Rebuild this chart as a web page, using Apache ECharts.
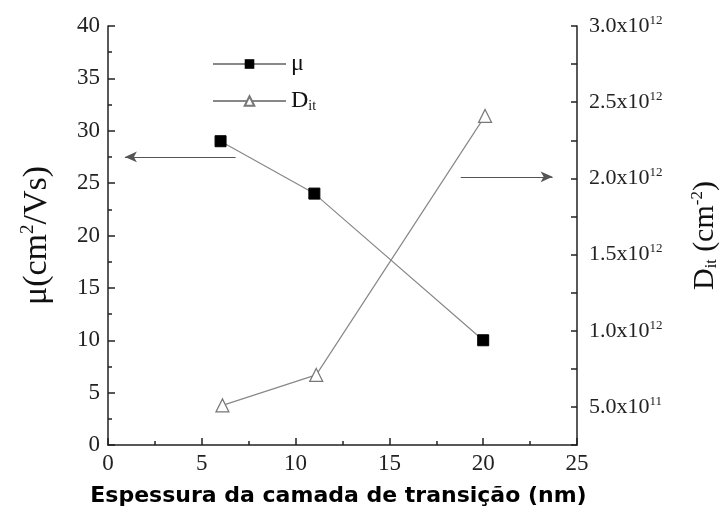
<!DOCTYPE html>
<html>
<head>
<meta charset="utf-8">
<script src="https://cdn.jsdelivr.net/npm/echarts@6/dist/echarts.min.js"></script>
<style>
  html, body { margin: 0; padding: 0; background: #fff; }
  #chart { width: 728px; height: 512px; }
</style>
</head>
<body>
<div id="chart"></div>
<script>
  // espessura da camada (nm)
  var espessuraMu = [6, 11, 20];
  var espessuraDit = [6.1, 11.1, 20.1];
  // mobilidade (cm2/Vs)
  var mu = [29, 24, 10];
  // Dit em unidades de 1e12 cm-2
  var dit = [0.51, 0.71, 2.41];
  // setas indicando o eixo de cada serie
  var setaMu = [[6.8, 27.5], [0.9, 27.5]];
  var setaDit = [[18.8, 2.01], [23.7, 2.01]];

  var serif = 'Liberation Serif';

  function pares(xs, ys) {
    return xs.map(function (x, i) { return [x, ys[i]]; });
  }

  // rotulo do eixo direito: 5.0x10^11, 1.0x10^12 ...
  function rotuloDit(v) {
    var k = Math.round(v * 100);
    if (k % 50 !== 0) return '';
    if (k < 100) return '{a|' + (v * 10).toFixed(1) + 'x10}{s|11}';
    return '{a|' + v.toFixed(1) + 'x10}{s|12}';
  }

  var chart = echarts.init(document.getElementById('chart'));
  chart.setOption({
    animation: false,
    grid: { left: 108, right: 151, top: 26, bottom: 66 },
    legend: {
      orient: 'vertical',
      left: 207,
      top: 47,
      itemWidth: 73,
      itemHeight: 12,
      itemGap: 13,
      data: ['mu', 'dit'],
      formatter: function (n) {
        return n === 'mu' ? '{t|μ}' : '{t|D}{b|it}';
      },
      textStyle: {
        rich: {
          t: { fontFamily: serif, fontSize: 24, color: '#111' },
          b: { fontFamily: serif, fontSize: 14, color: '#111', padding: [11, 0, 0, 0] }
        }
      }
    },
    xAxis: {
      type: 'value',
      min: 0, max: 25, interval: 5,
      name: 'Espessura da camada de transição (nm)',
      nameLocation: 'middle',
      nameGap: 40,
      nameTextStyle: { fontFamily: 'DejaVu Sans', fontWeight: 'bold', fontSize: 22, color: '#000', padding: [0, 8, 0, 0] },
      axisLine: { lineStyle: { color: '#222', width: 1.5 } },
      axisTick: { inside: true, length: 7, lineStyle: { color: '#222', width: 1.5 } },
      minorTick: { show: true, splitNumber: 2, length: 4, lineStyle: { color: '#222', width: 1.5 } },
      axisLabel: { fontFamily: serif, fontSize: 23, color: '#222', margin: 7 },
      splitLine: { show: false }
    },
    yAxis: [
      {
        type: 'value',
        min: 0, max: 40, interval: 5,
        name: '{t|μ(cm}{s|2}{t|/Vs)}',
        nameLocation: 'middle',
        nameRotate: 90,
        nameGap: 53,
        nameTextStyle: {
          rich: {
            t: { fontFamily: serif, fontSize: 34, color: '#111' },
            s: { fontFamily: serif, fontSize: 19, color: '#111', padding: [0, 0, 17, 0] }
          }
        },
        axisLine: { show: true, lineStyle: { color: '#222', width: 1.5 } },
        axisTick: { show: true, inside: true, length: 7, lineStyle: { color: '#222', width: 1.5 } },
        minorTick: { show: true, splitNumber: 2, length: 4, lineStyle: { color: '#222', width: 1.5 } },
        axisLabel: { fontFamily: serif, fontSize: 23, color: '#222', margin: 8 },
        splitLine: { show: false }
      },
      {
        type: 'value',
        position: 'right',
        min: 0.25, max: 3.0, interval: 0.25,
        name: '{t|D}{b|it}{t| (cm}{s|-2}{t|)}',
        nameLocation: 'middle',
        nameRotate: 90,
        nameGap: 112,
        nameTextStyle: {
          rich: {
            t: { fontFamily: serif, fontSize: 30, color: '#111' },
            b: { fontFamily: serif, fontSize: 16, color: '#111', padding: [13, 0, 0, 0] },
            s: { fontFamily: serif, fontSize: 17, color: '#111', padding: [0, 0, 15, 0] }
          }
        },
        axisLine: { show: true, lineStyle: { color: '#222', width: 1.5 } },
        axisTick: { show: true, inside: true, length: 6, lineStyle: { color: '#222', width: 1.5 } },
        axisLabel: {
          margin: 12,
          formatter: rotuloDit,
          rich: {
            a: { fontFamily: serif, fontSize: 22, color: '#222' },
            s: { fontFamily: serif, fontSize: 13, color: '#222', padding: [0, 0, 11, 0] }
          }
        },
        splitLine: { show: false }
      }
    ],
    series: [
      {
        name: 'mu',
        type: 'line',
        yAxisIndex: 0,
        data: pares(espessuraMu, mu),
        symbol: 'rect',
        symbolSize: 11,
        lineStyle: { color: '#888', width: 1.2 },
        itemStyle: { color: '#000', borderColor: '#000' },
        markLine: {
          silent: true,
          symbol: ['none', 'arrow'],
          symbolSize: [8, 12],
          label: { show: false },
          lineStyle: { color: '#555', width: 1.2, type: 'solid' },
          data: [[{ coord: setaMu[0] }, { coord: setaMu[1] }]]
        }
      },
      {
        name: 'dit',
        type: 'line',
        yAxisIndex: 1,
        data: pares(espessuraDit, dit),
        symbol: 'triangle',
        symbolSize: 13,
        lineStyle: { color: '#888', width: 1.2 },
        itemStyle: { color: '#fff', borderColor: '#777', borderWidth: 1.2 },
        markLine: {
          silent: true,
          symbol: ['none', 'arrow'],
          symbolSize: [8, 12],
          label: { show: false },
          lineStyle: { color: '#555', width: 1.2, type: 'solid' },
          data: [[{ coord: setaDit[0] }, { coord: setaDit[1] }]]
        }
      }
    ]
  });
</script>
</body>
</html>
